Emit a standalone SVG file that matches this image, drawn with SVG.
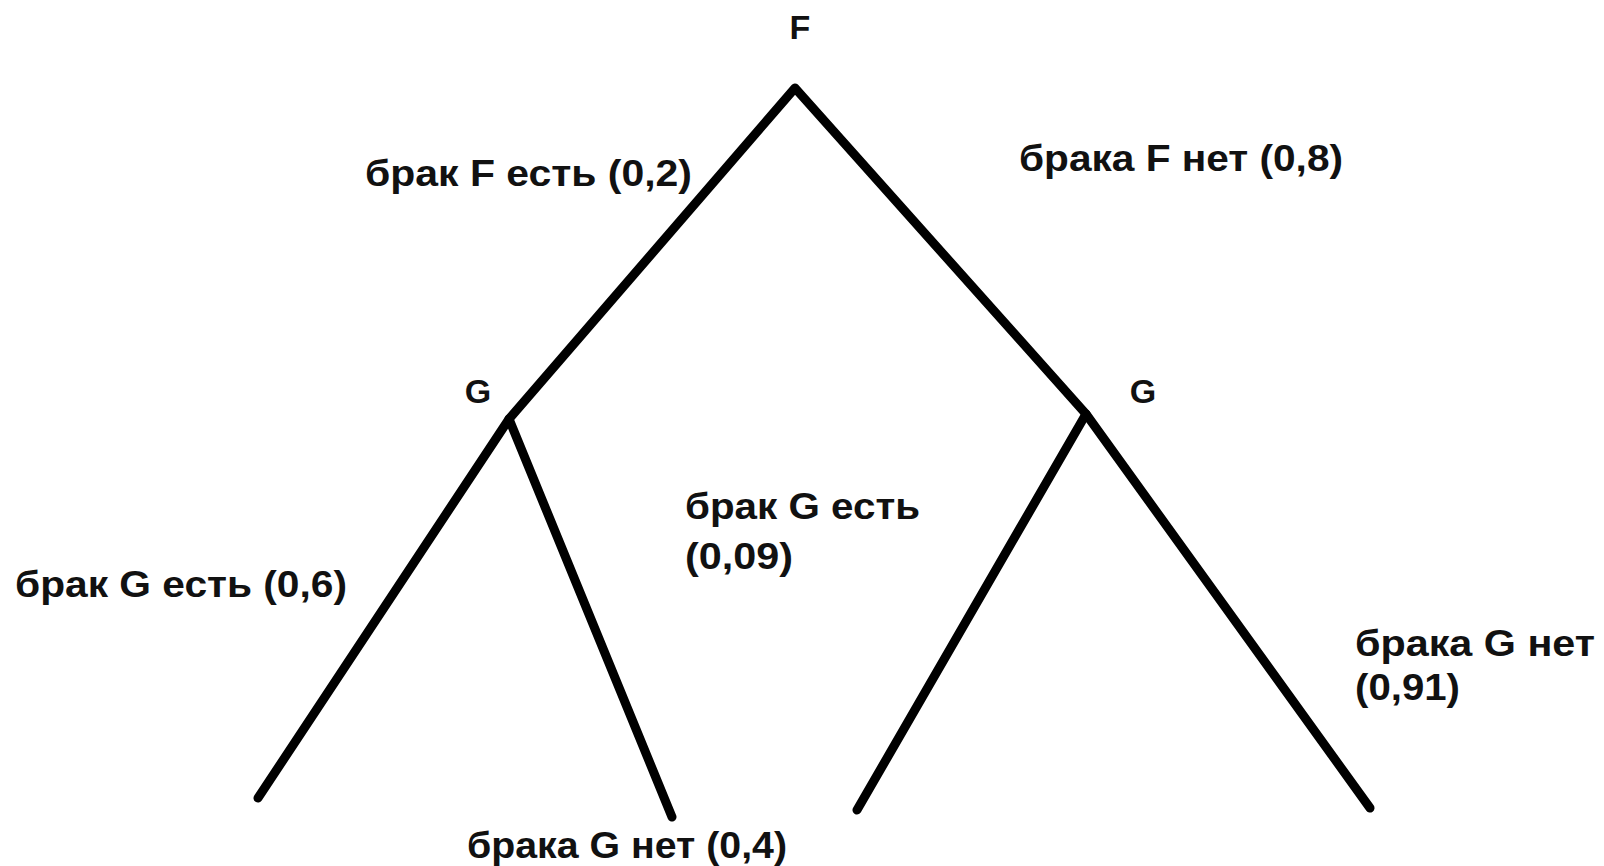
<svg xmlns="http://www.w3.org/2000/svg" width="1604" height="866" viewBox="0 0 1604 866">
<style>
.t{font-family:"Liberation Sans",Arial,sans-serif;font-weight:bold;font-size:37px;fill:#111}
.n{font-family:"Liberation Sans",Arial,sans-serif;font-weight:bold;font-size:34px;fill:#111}
.e{stroke:#000;stroke-width:9;stroke-linecap:round;stroke-linejoin:round;fill:none}
</style>
<rect width="1604" height="866" fill="#fff"/>
<g id="connectors">
<polyline class="e" points="258,798 509,419 795,88 1086,414 1370,808"/>
<line class="e" x1="509" y1="419" x2="672" y2="817"/>
<line class="e" x1="1086" y1="414" x2="857" y2="810"/>
</g>
<g id="node-F"><text class="n" x="800" y="39" text-anchor="middle">F</text></g>
<g id="node-G-left"><text class="n" x="478" y="403" text-anchor="middle">G</text></g>
<g id="node-G-right"><text class="n" x="1143" y="403" text-anchor="middle">G</text></g>
<g id="labels">
<text class="t" x="365" y="186" textLength="327" lengthAdjust="spacingAndGlyphs">брак F есть (0,2)</text>
<text class="t" x="1019" y="171" textLength="324" lengthAdjust="spacingAndGlyphs">брака F нет (0,8)</text>
<text class="t" x="15" y="597" textLength="332" lengthAdjust="spacingAndGlyphs">брак G есть (0,6)</text>
<text class="t" x="685" y="519" textLength="235" lengthAdjust="spacingAndGlyphs">брак G есть</text>
<text class="t" x="685" y="569" textLength="108" lengthAdjust="spacingAndGlyphs">(0,09)</text>
<text class="t" x="1355" y="656" textLength="240" lengthAdjust="spacingAndGlyphs">брака G нет</text>
<text class="t" x="1355" y="700" textLength="105" lengthAdjust="spacingAndGlyphs">(0,91)</text>
<text class="t" x="467" y="858" textLength="320" lengthAdjust="spacingAndGlyphs">брака G нет (0,4)</text>
</g>
</svg>
